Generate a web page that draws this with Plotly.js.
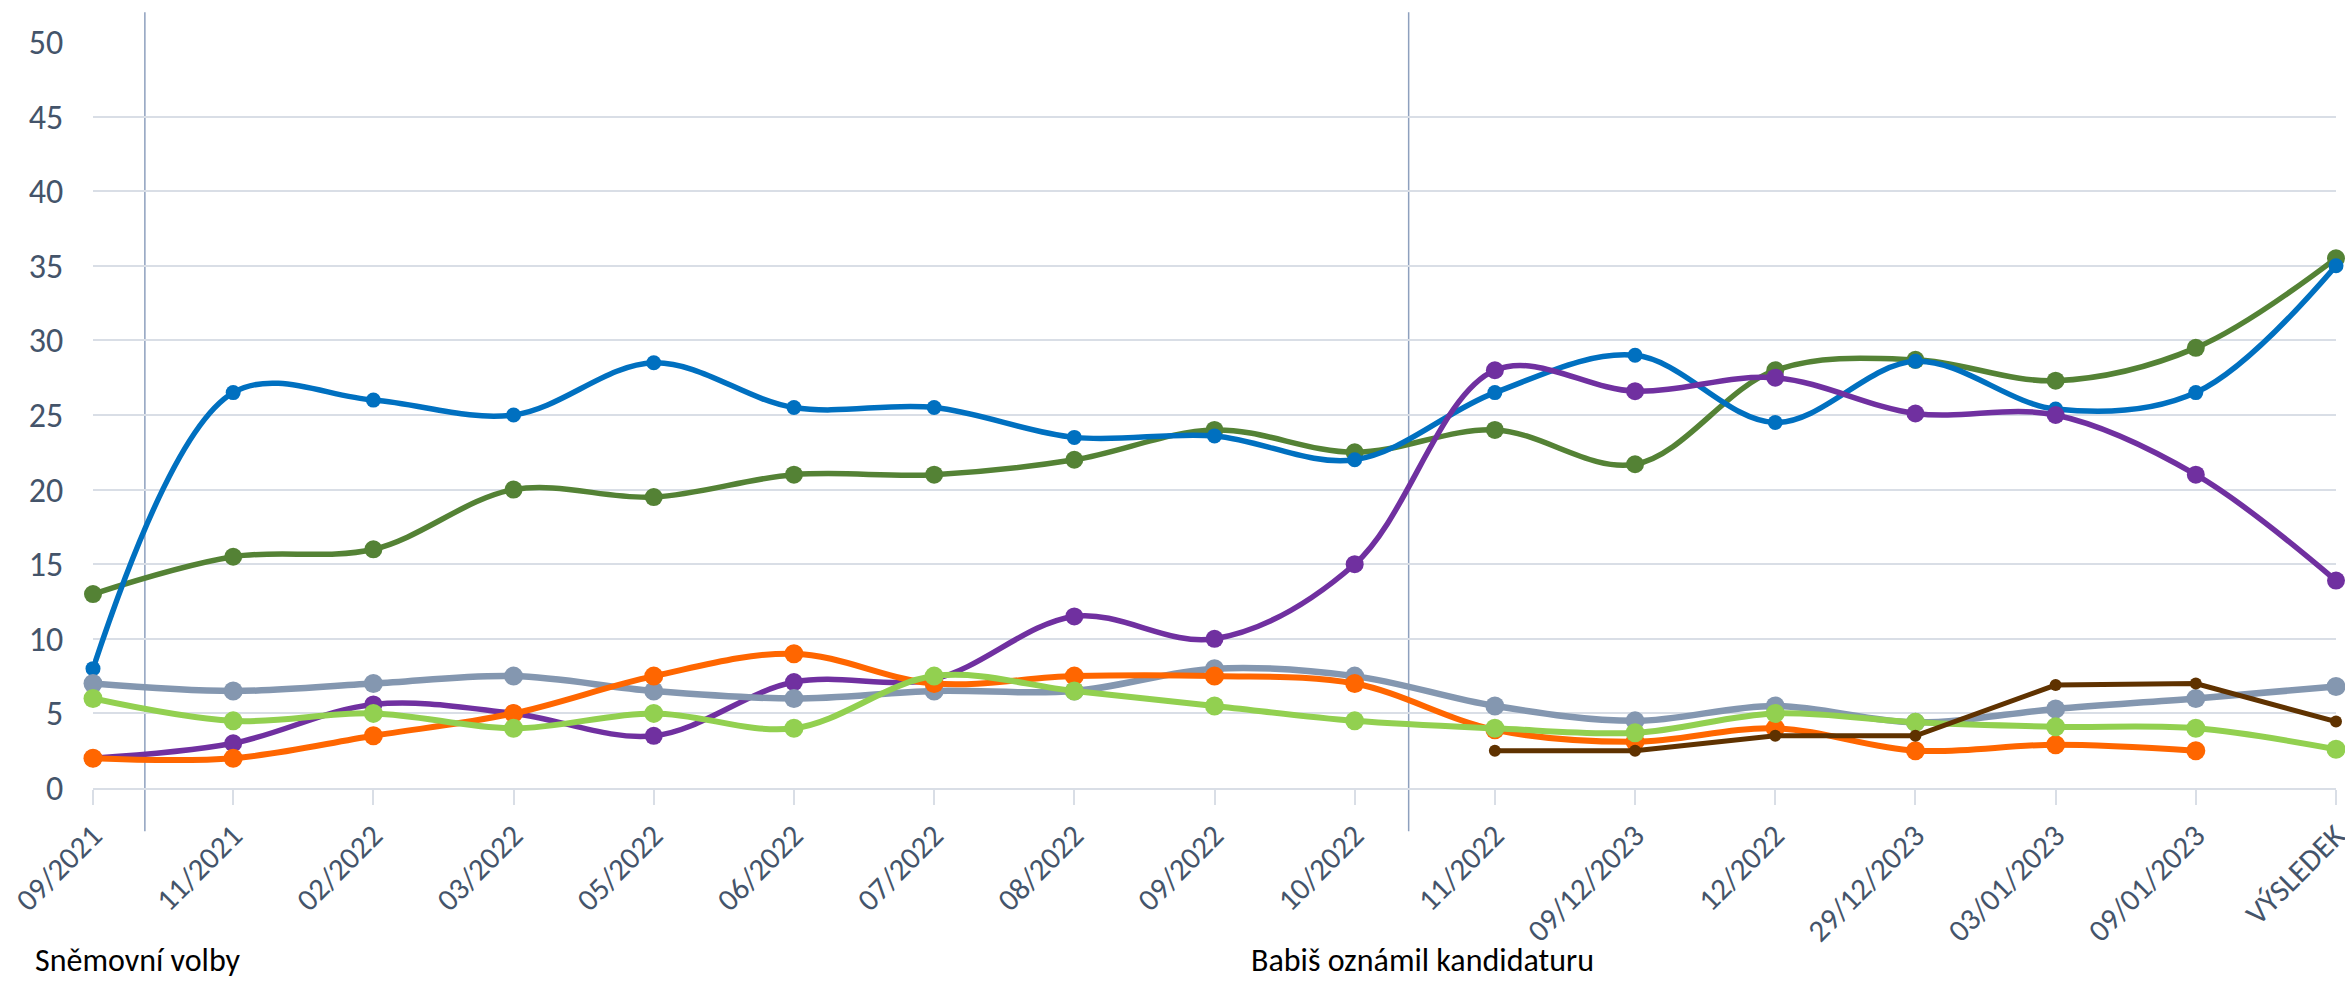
<!DOCTYPE html>
<html>
<head>
<meta charset="utf-8">
<script src="https://cdn.plot.ly/plotly-3.0.1.min.js"></script>
<style>
html,body{margin:0;padding:0;background:#fff;}
#chart{width:2345px;height:981px;}
</style>
</head>
<body>
<div id="chart"></div>
<script>
const categories = ['09/2021','11/2021','02/2022','03/2022','05/2022','06/2022','07/2022','08/2022','09/2022','10/2022','11/2022','09/12/2023','12/2022','29/12/2023','03/01/2023','09/01/2023','VÝSLEDEK'];

const seriesGreen      = [13, 15.5, 16, 20, 19.5, 21, 21, 22, 24, 22.5, 24, 21.7, 28, 28.7, 27.3, 29.5, 35.5];
const seriesBlue       = [8, 26.5, 26, 25, 28.5, 25.5, 25.5, 23.5, 23.6, 22, 26.5, 29, 24.5, 28.6, 25.4, 26.5, 35];
const seriesPurple     = [2, 3, 5.6, 5, 3.5, 7.1, 7.3, 11.5, 10, 15, 28, 26.6, 27.5, 25.1, 25, 21, 13.9];
const seriesGray       = [7, 6.5, 7, 7.5, 6.5, 6, 6.5, 6.5, 8, 7.5, 5.5, 4.5, 5.5, 4.4, 5.3, 6, 6.8];
const seriesOrange     = [2, 2, 3.5, 5, 7.5, 9, 7, 7.5, 7.5, 7, 3.9, 3.1, 4, 2.5, 2.9, 2.5, null];
const seriesLightGreen = [6, 4.5, 5, 4, 5, 4, 7.5, 6.5, 5.5, 4.5, 4, 3.7, 5, 4.4, 4.1, 4, 2.6];
const seriesBrown      = [null, null, null, null, null, null, null, null, null, null, 2.5, 2.5, 3.5, 3.5, 6.9, 7, 4.45];

const yTicks = [0, 5, 10, 15, 20, 25, 30, 35, 40, 45, 50];

const eventLabels = ['Sněmovní volby', 'Babiš oznámil kandidaturu'];
const eventPositions = [0.37, 9.385];

const FONT = 'Carlito, Calibri, Lato, "Open Sans", sans-serif';

function mk(y, color, width, msize, shape) {
  return {
    x: categories, y: y, type: 'scatter', mode: 'lines+markers',
    line: {color: color, width: width, shape: shape || 'spline', smoothing: 1},
    marker: {color: color, size: msize},
    cliponaxis: false, connectgaps: false, showlegend: false,
    hoverinfo: 'x+y'
  };
}

const traces = [
  mk(seriesGreen, '#548235', 5.5, 18),
  mk(seriesBlue, '#0070C0', 5.5, 15),
  mk(seriesPurple, '#7030A0', 5.5, 18),
  mk(seriesGray, '#8497B0', 6.5, 19),
  mk(seriesOrange, '#FF6600', 6, 19),
  mk(seriesLightGreen, '#92D050', 6, 19),
  mk(seriesBrown, '#5F3200', 5, 12, 'linear')
];

const shapes = eventPositions.map(p => ({
  type: 'line', xref: 'x', yref: 'paper',
  x0: p, x1: p, y0: -0.058, y1: 1.040,
  line: {color: '#8EA0BE', width: 1.5}, layer: 'below'
}));

const annotations = eventLabels.map((t, i) => ({
  text: t, xref: 'paper', yref: 'paper',
  x: [ -0.0267, 0.5154 ][i], y: -0.2306,
  xanchor: 'left', yanchor: 'middle', showarrow: false,
  font: {family: FONT, size: 32, color: '#000000'}
}));

const layout = {
  width: 2345, height: 981,
  margin: {l: 93, r: 9, t: 42, b: 193},
  paper_bgcolor: '#ffffff', plot_bgcolor: '#ffffff',
  font: {family: FONT},
  xaxis: {
    type: 'category', range: [0, 16], fixedrange: true,
    tickangle: -45, ticks: 'outside', ticklen: 15, tickwidth: 2, tickcolor: '#D9DEE6',
    showline: true, linecolor: '#D9DEE6', linewidth: 2,
    showgrid: false, zeroline: false,
    tickfont: {family: FONT, size: 31, color: '#44546A'}
  },
  yaxis: {
    range: [0, 50], tickvals: yTicks, fixedrange: true,
    ticks: 'outside', ticklen: 22, tickcolor: 'rgba(0,0,0,0)',
    showgrid: true, gridcolor: '#D9DEE6', gridwidth: 2,
    zeroline: false, showline: false,
    tickfont: {family: FONT, size: 34, color: '#44546A'}
  },
  shapes: shapes,
  annotations: annotations
};

Plotly.newPlot('chart', traces, layout, {displayModeBar: false, staticPlot: true});
</script>
</body>
</html>
